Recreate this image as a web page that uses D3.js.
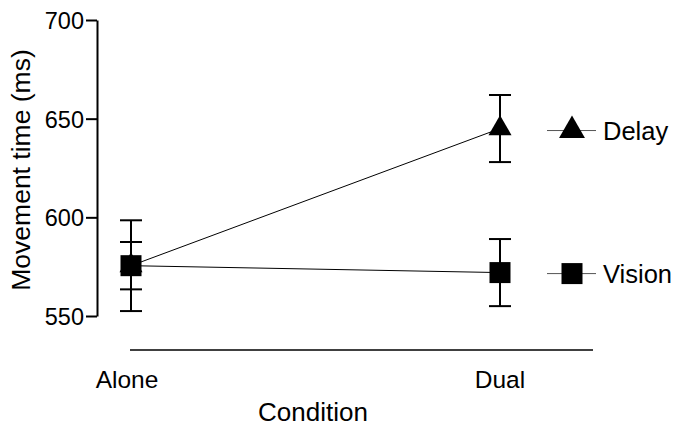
<!DOCTYPE html>
<html>
<head>
<meta charset="utf-8">
<script src="https://cdn.jsdelivr.net/npm/d3@7"></script>
<style>
  body { margin: 0; background: #fff; }
  text { font-family: "Liberation Sans", Arial, Helvetica, sans-serif; fill: #000; }
</style>
</head>
<body>
<div id="chart"></div>
<script>
// datos
const conditions = ["Alone", "Dual"];
const seriesNames = ["Delay", "Vision"];
const delayMeans = [575.5, 645];
const delayErr = [12, 17];
const visionMeans = [575.5, 572];
const visionErr = [23, 17];
const yTicks = [550, 600, 650, 700];

const W = 678, H = 430;

const svg = d3.select("#chart")
  .append("svg")
  .attr("width", W)
  .attr("height", H);

// escaladores
const x = d3.scalePoint().domain(conditions).range([131, 500]);
const y = d3.scaleLinear().domain([550, 700]).range([316, 20]);

// eje y
const yAxis = svg.append("g")
  .attr("transform", "translate(97,0)")
  .call(d3.axisLeft(y).tickValues(yTicks).tickSize(11).tickSizeOuter(0).tickPadding(2));
yAxis.select(".domain").attr("stroke-width", 2);
yAxis.selectAll(".tick line").attr("stroke-width", 2);
yAxis.selectAll(".tick text")
  .style("font-size", "23.5px")
  .attr("dy", "0.36em");

svg.append("text")
  .attr("transform", `translate(30, ${(20 + 316) / 2 + 2}) rotate(-90)`)
  .attr("text-anchor", "middle")
  .style("font-size", "26.5px")
  .text("Movement time (ms)");

// eje x (sin marcas)
const xAxis = svg.append("g")
  .attr("transform", "translate(0,350)");
xAxis.append("line")
  .attr("x1", x("Alone") - 1)
  .attr("x2", 593)
  .attr("stroke", "#000")
  .attr("stroke-width", 1.5);
xAxis.selectAll("text.cat")
  .data(conditions)
  .enter()
  .append("text")
  .attr("class", "cat")
  .attr("x", (d) => x(d) - (d === "Alone" ? 4 : 0))
  .attr("y", 38)
  .attr("text-anchor", "middle")
  .style("font-size", "24.5px")
  .text((d) => d);

svg.append("text")
  .attr("x", 313)
  .attr("y", 421)
  .attr("text-anchor", "middle")
  .style("font-size", "26px")
  .text("Condition");

// series
const series = [
  { name: seriesNames[0], means: delayMeans, err: delayErr, shape: d3.symbolTriangle, size: 230 },
  { name: seriesNames[1], means: visionMeans, err: visionErr, shape: d3.symbolSquare, size: 441 }
];

const line = d3.line()
  .x((d) => x(d.c))
  .y((d) => y(d.m));

series.forEach((s) => {
  const pts = conditions.map((c, i) => ({ c: c, m: s.means[i], e: s.err[i] }));
  const g = svg.append("g");

  g.append("path")
    .datum(pts)
    .attr("d", line)
    .attr("fill", "none")
    .attr("stroke", "#000")
    .attr("stroke-width", 1);

  // barras de error
  const eb = g.selectAll("g.eb").data(pts).enter().append("g").attr("class", "eb");
  eb.append("line")
    .attr("x1", (d) => x(d.c)).attr("x2", (d) => x(d.c))
    .attr("y1", (d) => y(d.m - d.e)).attr("y2", (d) => y(d.m + d.e))
    .attr("stroke", "#000").attr("stroke-width", 2);
  [1, -1].forEach((sgn) => {
    eb.append("line")
      .attr("x1", (d) => x(d.c) - 11).attr("x2", (d) => x(d.c) + 11)
      .attr("y1", (d) => y(d.m + sgn * d.e)).attr("y2", (d) => y(d.m + sgn * d.e))
      .attr("stroke", "#000").attr("stroke-width", 2);
  });
});

// simbolos encima
series.forEach((s) => {
  const pts = conditions.map((c, i) => ({ c: c, m: s.means[i] }));
  svg.selectAll(null)
    .data(pts)
    .enter()
    .append("path")
    .attr("d", d3.symbol().type(s.shape).size(s.size))
    .attr("transform", (d) => `translate(${x(d.c)},${y(d.m)})`)
    .attr("fill", "#000");
});

// leyenda al final de cada serie
series.forEach((s) => {
  const ly = y(s.means[s.means.length - 1]) + (s.name === "Delay" ? 2 : 1);
  const lg = svg.append("g").attr("transform", `translate(572,${ly})`);
  lg.append("line")
    .attr("x1", -25).attr("x2", 24)
    .attr("stroke", "#555").attr("stroke-width", 1);
  lg.append("path")
    .attr("d", d3.symbol().type(s.shape).size(s.name === "Delay" ? 290 : 441))
    .attr("fill", "#000");
  lg.append("text")
    .attr("x", 31)
    .attr("dy", "0.36em")
    .style("font-size", "25.5px")
    .text(s.name);
});
</script>
</body>
</html>
